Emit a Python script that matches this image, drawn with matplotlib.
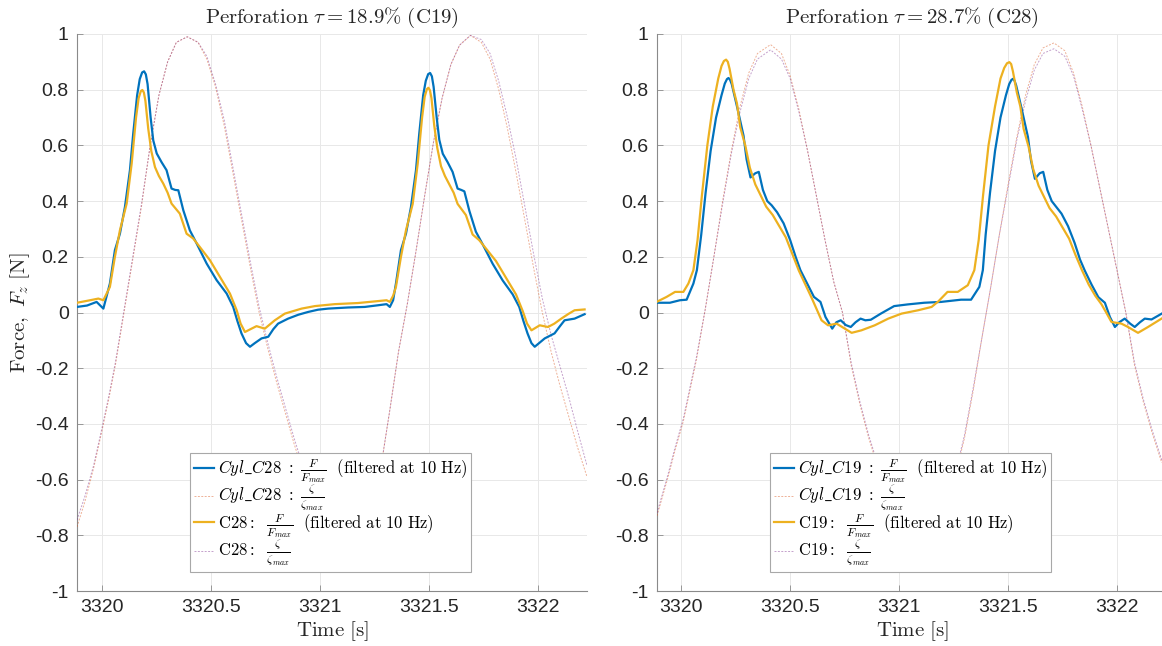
import matplotlib
matplotlib.use("Agg")
import matplotlib.pyplot as plt
from matplotlib.ticker import MultipleLocator, FuncFormatter

plt.rcParams["mathtext.fontset"] = "cm"
plt.rcParams["font.family"] = ["Liberation Sans", "DejaVu Sans"]
plt.rcParams["axes.unicode_minus"] = False

# ---------------- data ----------------
titles = [r"$\mathrm{Perforation}\ \tau = 18.9\%\ \mathrm{(C19)}$",
          r"$\mathrm{Perforation}\ \tau = 28.7\%\ \mathrm{(C28)}$"]
cyl_names = ["C28", "C19"]
case_names = ["C28", "C19"]
x_limits = [(3319.884, 3322.225), (3319.889, 3322.229)]

# left panel: Cyl_C28 filtered force (blue)
left_cyl_force = [
    (3319.884, 0.020), (3319.930, 0.025), (3319.974, 0.038), (3320.005, 0.014),
    (3320.035, 0.104), (3320.058, 0.224), (3320.081, 0.283), (3320.104, 0.379),
    (3320.127, 0.511), (3320.142, 0.642), (3320.160, 0.780), (3320.172, 0.838),
    (3320.183, 0.862), (3320.192, 0.866), (3320.200, 0.855), (3320.208, 0.820),
    (3320.222, 0.700), (3320.234, 0.618), (3320.250, 0.571), (3320.272, 0.540),
    (3320.295, 0.511), (3320.318, 0.445), (3320.335, 0.440), (3320.349, 0.439),
    (3320.372, 0.367), (3320.402, 0.295), (3320.433, 0.248), (3320.479, 0.176),
    (3320.525, 0.116), (3320.571, 0.068), (3320.601, 0.020), (3320.620, -0.030),
    (3320.639, -0.075), (3320.660, -0.110), (3320.678, -0.123), (3320.700, -0.110),
    (3320.731, -0.093), (3320.762, -0.087), (3320.785, -0.060), (3320.807, -0.040),
    (3320.853, -0.022), (3320.900, -0.008), (3320.945, 0.002), (3320.990, 0.010),
    (3321.037, 0.014), (3321.128, 0.018), (3321.205, 0.020), (3321.266, 0.026),
    (3321.305, 0.030), (3321.320, 0.020), (3321.335, 0.044), (3321.348, 0.104),
    (3321.371, 0.224), (3321.394, 0.283), (3321.417, 0.379), (3321.440, 0.511),
    (3321.455, 0.642), (3321.473, 0.780), (3321.485, 0.832), (3321.496, 0.856),
    (3321.505, 0.860), (3321.513, 0.848), (3321.521, 0.810), (3321.535, 0.700),
    (3321.547, 0.620), (3321.563, 0.570), (3321.585, 0.540), (3321.608, 0.505),
    (3321.631, 0.445), (3321.648, 0.440), (3321.662, 0.435), (3321.685, 0.365),
    (3321.715, 0.290), (3321.746, 0.245), (3321.792, 0.175), (3321.838, 0.115),
    (3321.884, 0.065), (3321.914, 0.020), (3321.933, -0.030), (3321.952, -0.075),
    (3321.970, -0.110), (3321.985, -0.123), (3322.005, -0.110), (3322.031, -0.093),
    (3322.076, -0.075), (3322.100, -0.050), (3322.122, -0.028), (3322.168, -0.022),
    (3322.214, -0.006),
]

# left panel: C28 filtered force (yellow)
left_case_force = [
    (3319.884, 0.035), (3319.944, 0.044), (3319.982, 0.050), (3320.005, 0.044),
    (3320.035, 0.092), (3320.058, 0.200), (3320.081, 0.295), (3320.112, 0.391),
    (3320.135, 0.535), (3320.155, 0.700), (3320.167, 0.770), (3320.177, 0.795),
    (3320.184, 0.799), (3320.191, 0.790), (3320.198, 0.760), (3320.211, 0.660),
    (3320.225, 0.580), (3320.242, 0.522), (3320.260, 0.490), (3320.280, 0.463),
    (3320.300, 0.430), (3320.318, 0.391), (3320.356, 0.355), (3320.387, 0.283),
    (3320.417, 0.266), (3320.448, 0.235), (3320.494, 0.188), (3320.540, 0.128),
    (3320.586, 0.068), (3320.617, 0.008), (3320.635, -0.040), (3320.655, -0.070),
    (3320.680, -0.060), (3320.708, -0.049), (3320.746, -0.058), (3320.792, -0.028),
    (3320.838, -0.004), (3320.915, 0.014), (3320.976, 0.023), (3321.067, 0.030),
    (3321.174, 0.034), (3321.266, 0.041), (3321.305, 0.044), (3321.320, 0.038),
    (3321.335, 0.060), (3321.348, 0.092), (3321.371, 0.200), (3321.394, 0.295),
    (3321.425, 0.390), (3321.448, 0.535), (3321.468, 0.700), (3321.480, 0.775),
    (3321.490, 0.802), (3321.497, 0.807), (3321.504, 0.798), (3321.511, 0.770),
    (3321.524, 0.670), (3321.538, 0.590), (3321.555, 0.525), (3321.573, 0.490),
    (3321.593, 0.460), (3321.613, 0.430), (3321.631, 0.390), (3321.669, 0.350),
    (3321.700, 0.280), (3321.730, 0.260), (3321.761, 0.230), (3321.807, 0.185),
    (3321.853, 0.125), (3321.899, 0.065), (3321.930, 0.005), (3321.950, -0.040),
    (3321.970, -0.064), (3322.008, -0.046), (3322.046, -0.052), (3322.075, -0.040),
    (3322.107, -0.022), (3322.140, -0.005), (3322.168, 0.008), (3322.214, 0.011),
]

# right panel: Cyl_C19 filtered force (blue)
right_cyl_force = [
    (3319.887, 0.035), (3319.948, 0.035), (3319.994, 0.044), (3320.025, 0.046),
    (3320.056, 0.104), (3320.072, 0.152), (3320.092, 0.280), (3320.112, 0.430),
    (3320.135, 0.580), (3320.160, 0.700), (3320.185, 0.780), (3320.200, 0.822),
    (3320.210, 0.838), (3320.217, 0.842), (3320.224, 0.836), (3320.232, 0.820),
    (3320.256, 0.740), (3320.286, 0.635), (3320.300, 0.550), (3320.318, 0.485),
    (3320.340, 0.500), (3320.356, 0.505), (3320.375, 0.440), (3320.395, 0.400),
    (3320.415, 0.385), (3320.440, 0.360), (3320.470, 0.320), (3320.500, 0.260),
    (3320.525, 0.200), (3320.547, 0.152), (3320.578, 0.104), (3320.609, 0.056),
    (3320.639, 0.038), (3320.662, -0.016), (3320.693, -0.058), (3320.712, -0.035),
    (3320.732, -0.028), (3320.755, -0.045), (3320.778, -0.052), (3320.800, -0.035),
    (3320.823, -0.022), (3320.845, -0.028), (3320.870, -0.026), (3320.916, -0.004),
    (3320.977, 0.023), (3321.039, 0.029), (3321.115, 0.035), (3321.192, 0.038),
    (3321.284, 0.046), (3321.330, 0.046), (3321.368, 0.092), (3321.384, 0.152),
    (3321.397, 0.280), (3321.417, 0.430), (3321.440, 0.580), (3321.465, 0.700),
    (3321.490, 0.780), (3321.505, 0.820), (3321.515, 0.835), (3321.522, 0.839),
    (3321.529, 0.833), (3321.537, 0.815), (3321.561, 0.735), (3321.591, 0.630),
    (3321.605, 0.545), (3321.623, 0.480), (3321.645, 0.500), (3321.661, 0.505),
    (3321.680, 0.440), (3321.700, 0.400), (3321.720, 0.380), (3321.745, 0.355),
    (3321.775, 0.310), (3321.805, 0.250), (3321.830, 0.190), (3321.852, 0.150),
    (3321.883, 0.100), (3321.914, 0.055), (3321.944, 0.035), (3321.967, -0.016),
    (3321.990, -0.052), (3322.010, -0.035), (3322.035, -0.022), (3322.060, -0.040),
    (3322.081, -0.052), (3322.105, -0.035), (3322.127, -0.022), (3322.158, -0.025),
    (3322.205, -0.004),
]

# right panel: C19 filtered force (yellow)
right_case_force = [
    (3319.887, 0.038), (3319.933, 0.056), (3319.972, 0.074), (3320.010, 0.074),
    (3320.033, 0.104), (3320.056, 0.152), (3320.075, 0.260), (3320.095, 0.420),
    (3320.120, 0.600), (3320.145, 0.740), (3320.170, 0.840), (3320.185, 0.885),
    (3320.196, 0.903), (3320.206, 0.908), (3320.214, 0.900), (3320.222, 0.875),
    (3320.240, 0.800), (3320.256, 0.750), (3320.271, 0.665), (3320.294, 0.600),
    (3320.315, 0.520), (3320.340, 0.460), (3320.365, 0.420), (3320.390, 0.380),
    (3320.420, 0.350), (3320.450, 0.310), (3320.480, 0.270), (3320.510, 0.210),
    (3320.540, 0.150), (3320.570, 0.100), (3320.600, 0.050), (3320.644, -0.028),
    (3320.674, -0.046), (3320.713, -0.040), (3320.751, -0.058), (3320.782, -0.073),
    (3320.827, -0.064), (3320.888, -0.046), (3320.950, -0.022), (3321.011, -0.004),
    (3321.087, 0.008), (3321.149, 0.020), (3321.180, 0.040), (3321.222, 0.074),
    (3321.269, 0.074), (3321.315, 0.098), (3321.345, 0.152), (3321.365, 0.260),
    (3321.385, 0.420), (3321.410, 0.600), (3321.440, 0.740), (3321.465, 0.840),
    (3321.482, 0.878), (3321.495, 0.895), (3321.506, 0.899), (3321.514, 0.892),
    (3321.522, 0.866), (3321.540, 0.790), (3321.556, 0.740), (3321.571, 0.660),
    (3321.594, 0.595), (3321.615, 0.515), (3321.640, 0.455), (3321.665, 0.415),
    (3321.690, 0.375), (3321.720, 0.345), (3321.750, 0.305), (3321.780, 0.265),
    (3321.810, 0.205), (3321.840, 0.150), (3321.870, 0.100), (3321.900, 0.060),
    (3321.928, 0.030), (3321.950, 0.000), (3321.974, -0.034), (3322.020, -0.040),
    (3322.050, -0.052), (3322.096, -0.073), (3322.142, -0.052), (3322.204, -0.022),
]

# normalised surface elevation, both panels
left_zeta_time = [
    3319.884, 3319.92, 3319.96, 3320.00, 3320.03, 3320.06, 3320.10, 3320.14,
    3320.18, 3320.22, 3320.26, 3320.30, 3320.34, 3320.39, 3320.44, 3320.48,
    3320.52, 3320.56, 3320.60, 3320.64, 3320.68, 3320.72, 3320.76, 3320.80,
    3320.84, 3320.88, 3320.92, 3320.96, 3321.00, 3321.04, 3321.08, 3321.12,
    3321.16, 3321.20, 3321.24, 3321.28, 3321.32, 3321.36, 3321.40, 3321.44,
    3321.48, 3321.52, 3321.56, 3321.60, 3321.64, 3321.69, 3321.74, 3321.78,
    3321.82, 3321.86, 3321.90, 3321.94, 3321.98, 3322.02, 3322.06, 3322.10,
    3322.14, 3322.18, 3322.225,
]
left_zeta_cyl = [
    -0.77, -0.68, -0.56, -0.42, -0.31, -0.19, 0.00, 0.19, 0.38, 0.60, 0.78, 0.90,
    0.97, 0.99, 0.97, 0.91, 0.81, 0.67, 0.50, 0.33, 0.16, 0.00, -0.13, -0.25,
    -0.36, -0.47, -0.57, -0.66, -0.74, -0.80, -0.84, -0.85, -0.82, -0.76, -0.67,
    -0.55, -0.35, -0.14, 0.03, 0.22, 0.42, 0.61, 0.77, 0.89, 0.96, 0.995, 0.97,
    0.91, 0.80, 0.66, 0.50, 0.33, 0.16, 0.00, -0.14, -0.26, -0.37, -0.48, -0.59,
]
left_zeta_case = [
    -0.745, -0.66, -0.55, -0.41, -0.30, -0.18, 0.01, 0.20, 0.39, 0.60, 0.78, 0.90,
    0.97, 0.99, 0.97, 0.92, 0.82, 0.69, 0.52, 0.35, 0.18, 0.02, -0.11, -0.23,
    -0.34, -0.45, -0.55, -0.64, -0.72, -0.79, -0.83, -0.84, -0.82, -0.76, -0.67,
    -0.55, -0.35, -0.14, 0.03, 0.22, 0.42, 0.61, 0.77, 0.89, 0.96, 0.995, 0.98,
    0.93, 0.83, 0.70, 0.55, 0.38, 0.21, 0.05, -0.08, -0.19, -0.30, -0.42, -0.55,
]
right_zeta_time = [
    3319.889, 3319.94, 3319.97, 3320.01, 3320.04, 3320.07, 3320.11, 3320.15,
    3320.19, 3320.23, 3320.27, 3320.31, 3320.35, 3320.41, 3320.46, 3320.50,
    3320.54, 3320.58, 3320.62, 3320.66, 3320.70, 3320.74, 3320.78, 3320.82,
    3320.86, 3320.90, 3320.94, 3320.98, 3321.02, 3321.06, 3321.10, 3321.14,
    3321.18, 3321.22, 3321.26, 3321.30, 3321.34, 3321.38, 3321.42, 3321.46,
    3321.50, 3321.54, 3321.58, 3321.62, 3321.66, 3321.71, 3321.76, 3321.80,
    3321.84, 3321.88, 3321.92, 3321.96, 3322.00, 3322.04, 3322.08, 3322.12,
    3322.16, 3322.205,
]
right_zeta_cyl = [
    -0.73, -0.59, -0.50, -0.39, -0.28, -0.17, 0.01, 0.20, 0.40, 0.58, 0.74, 0.86,
    0.93, 0.962, 0.93, 0.85, 0.73, 0.58, 0.42, 0.26, 0.11, 0.00, -0.19, -0.33,
    -0.45, -0.55, -0.64, -0.71, -0.76, -0.79, -0.80, -0.78, -0.73, -0.66, -0.58,
    -0.45, -0.28, -0.09, 0.09, 0.28, 0.46, 0.63, 0.78, 0.89, 0.95, 0.968, 0.94,
    0.86, 0.74, 0.60, 0.45, 0.30, 0.15, 0.00, -0.19, -0.32, -0.43, -0.54,
]
right_zeta_case = [
    -0.72, -0.58, -0.49, -0.38, -0.27, -0.16, 0.01, 0.20, 0.39, 0.57, 0.72, 0.84,
    0.91, 0.943, 0.91, 0.84, 0.72, 0.58, 0.42, 0.26, 0.11, 0.00, -0.18, -0.32,
    -0.44, -0.54, -0.63, -0.70, -0.75, -0.78, -0.79, -0.77, -0.72, -0.65, -0.57,
    -0.44, -0.27, -0.09, 0.09, 0.28, 0.45, 0.62, 0.76, 0.87, 0.93, 0.947, 0.92,
    0.85, 0.73, 0.60, 0.45, 0.30, 0.15, 0.00, -0.18, -0.31, -0.42, -0.53,
]

y_ticks = [-1, -0.8, -0.6, -0.4, -0.2, 0, 0.2, 0.4, 0.6, 0.8, 1]

# ---------------- styling ----------------
blue = "#0072BD"
orange = "#D95319"
yellow = "#EDB120"
purple = "#7E2F8E"
axis_grey = "#8a8a8a"

fig = plt.figure(figsize=(11.62, 6.46), dpi=100)
W, H = 1162.0, 646.0
axes = [
    fig.add_axes([77 / W, (H - 591) / H, 510 / W, 557 / H]),
    fig.add_axes([657 / W, (H - 591) / H, 510 / W, 557 / H]),
]

panels = [
    (left_cyl_force, left_case_force, left_zeta_time, left_zeta_cyl, left_zeta_case),
    (right_cyl_force, right_case_force, right_zeta_time, right_zeta_cyl, right_zeta_case),
]

for i, ax in enumerate(axes):
    cyl_force, case_force, zt, zc, zk = panels[i]
    cyl = cyl_names[i]
    case = case_names[i]

    ax.plot([p[0] for p in cyl_force], [p[1] for p in cyl_force], color=blue, lw=1.6,
            solid_joinstyle="round",
            label=r"$Cyl\_%s\ :\ \frac{F}{F_{max}}\ \ \mathrm{(filtered\ at\ 10\ Hz)}$" % cyl,
            zorder=4)
    ax.plot(zt, zc, color=orange, lw=0.7, ls=(0, (2, 1.5)), alpha=0.45,
            label=r"$Cyl\_%s\ :\ \frac{\zeta}{\zeta_{max}}$" % cyl, zorder=3)
    ax.plot([p[0] for p in case_force], [p[1] for p in case_force], color=yellow, lw=1.6,
            solid_joinstyle="round",
            label=r"$\mathrm{%s:}\ \ \frac{F}{F_{max}}\ \ \mathrm{(filtered\ at\ 10\ Hz)}$" % case,
            zorder=4)
    ax.plot(zt, zk, color=purple, lw=0.7, ls=(0, (2, 1.5)), alpha=0.45,
            label=r"$\mathrm{%s:}\ \ \frac{\zeta}{\zeta_{max}}$" % case, zorder=3)

    ax.set_xlim(*x_limits[i])
    ax.set_ylim(-1, 1)
    ax.set_yticks(y_ticks)
    ax.xaxis.set_major_locator(MultipleLocator(0.5))
    ax.xaxis.set_major_formatter(FuncFormatter(lambda v, p: "%g" % v))
    ax.yaxis.set_major_formatter(FuncFormatter(lambda v, p: "%g" % round(v, 2)))
    ax.tick_params(direction="in", length=4, width=0.6, color=axis_grey,
                   labelsize=14, labelcolor="#262626", pad=6)
    ax.grid(True, color="#e8e8e8", lw=0.7)
    ax.set_axisbelow(True)
    for side in ["top", "right"]:
        ax.spines[side].set_visible(False)
    for side in ["left", "bottom"]:
        ax.spines[side].set_color(axis_grey)
        ax.spines[side].set_linewidth(0.8)

    ax.set_title(titles[i], fontsize=15, pad=8, color="#262626")
    ax.set_xlabel(r"$\mathrm{Time\ [s]}$", fontsize=15, color="#262626", labelpad=2)

    leg = ax.legend(loc="lower left", bbox_to_anchor=(0.2216, 0.034), borderaxespad=0,
                    fontsize=12, handlelength=1.2, handletextpad=0.2, labelspacing=-0.1,
                    borderpad=0.25, fancybox=False, framealpha=1, edgecolor="#a8a8a8")
    leg.get_frame().set_linewidth(0.8)

axes[0].set_ylabel(r"$\mathrm{Force,}\ F_z\ \mathrm{[N]}$", fontsize=15, color="#262626")
axes[0].yaxis.set_label_coords(-0.088, 0.5)

fig.savefig("out.png", dpi=100)
